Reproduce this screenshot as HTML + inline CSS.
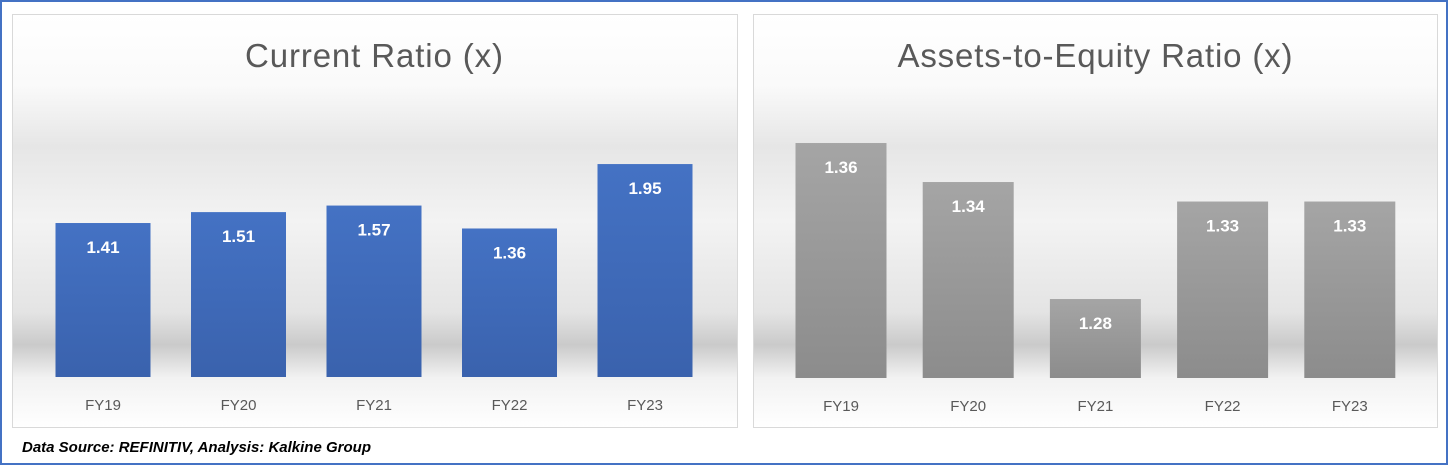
<!DOCTYPE html>
<html><head><meta charset="utf-8"><style>
html,body{margin:0;padding:0;background:#fff;}
svg{display:block;font-family:"Liberation Sans",Calibri,sans-serif;}
</style></head><body>
<svg id="s" width="1448" height="465" viewBox="0 0 1448 465">
<defs>
<linearGradient id="bg" x1="0" y1="0" x2="0" y2="1">
<stop offset="0" stop-color="#ffffff"/>
<stop offset="0.17" stop-color="#fafafa"/>
<stop offset="0.32" stop-color="#e6e6e6"/>
<stop offset="0.5" stop-color="#f3f3f3"/>
<stop offset="0.72" stop-color="#e4e4e4"/>
<stop offset="0.8" stop-color="#cacaca"/>
<stop offset="0.88" stop-color="#f2f2f2"/>
<stop offset="1" stop-color="#ffffff"/>
</linearGradient>
<linearGradient id="blue" x1="0" y1="0" x2="0" y2="1"><stop offset="0" stop-color="#4472c4"/><stop offset="1" stop-color="#3a62ad"/></linearGradient>
<linearGradient id="gray" x1="0" y1="0" x2="0" y2="1"><stop offset="0" stop-color="#a5a5a5"/><stop offset="1" stop-color="#8c8c8c"/></linearGradient>
</defs>
<rect x="1" y="1" width="1446" height="463" fill="#fff" stroke="#4472c4" stroke-width="2"/>
<rect x="12.5" y="14.5" width="725" height="413" fill="url(#bg)" stroke="#d9d9d9"/>
<rect x="753.5" y="14.5" width="684" height="413" fill="url(#bg)" stroke="#d9d9d9"/>
<text x="374" y="67" text-anchor="middle" font-size="33" textLength="258" fill="#595959">Current Ratio (x)</text>
<text x="1095" y="67" text-anchor="middle" font-size="33" textLength="395" fill="#595959">Assets-to-Equity Ratio (x)</text>
<text x="22" y="452" font-size="15" font-weight="bold" font-style="italic" fill="#000">Data Source: REFINITIV, Analysis: Kalkine Group</text>
<g id="g1"></g><g id="g2"></g>
</svg>
<script>
const categories = ["FY19","FY20","FY21","FY22","FY23"];
const currentRatio = [1.41,1.51,1.57,1.36,1.95];
const assetsEquity = [1.36,1.34,1.28,1.33,1.33];
const NS="http://www.w3.org/2000/svg";
function draw(gid, vals, cfg){
  const g=document.getElementById(gid);
  const y=v=>cfg.base-(v-cfg.min)*cfg.scale;
  vals.forEach((v,i)=>{
    const cx=cfg.x0+i*cfg.step;
    const r=document.createElementNS(NS,"rect");
    
    
    r.setAttribute("x",cx-cfg.w/2);r.setAttribute("width",cfg.w);
    r.setAttribute("y",y(v));r.setAttribute("height",cfg.base-y(v));
    r.setAttribute("fill",cfg.fill);g.appendChild(r);
    const t=document.createElementNS(NS,"text");
    
    
    t.setAttribute("x",cx);t.setAttribute("y",y(v)+30);t.setAttribute("text-anchor","middle");
    t.setAttribute("font-size","17");t.setAttribute("font-weight","bold");t.setAttribute("fill","#fff");
    t.textContent=v.toFixed(2);g.appendChild(t);
    const c=document.createElementNS(NS,"text");
    
    
    c.setAttribute("x",cx);c.setAttribute("y",cfg.base+33);c.setAttribute("text-anchor","middle");
    c.setAttribute("font-size","15");c.setAttribute("fill","#595959");
    c.textContent=categories[i];g.appendChild(c);
  });
}
draw("g1",currentRatio,{x0:103,step:135.5,w:95,base:377,min:0,scale:109.2,fill:"url(#blue)"});
draw("g2",assetsEquity,{x0:841,step:127.2,w:91,base:378,min:1.2395,scale:1950,fill:"url(#gray)"});
</script>
</body></html>
